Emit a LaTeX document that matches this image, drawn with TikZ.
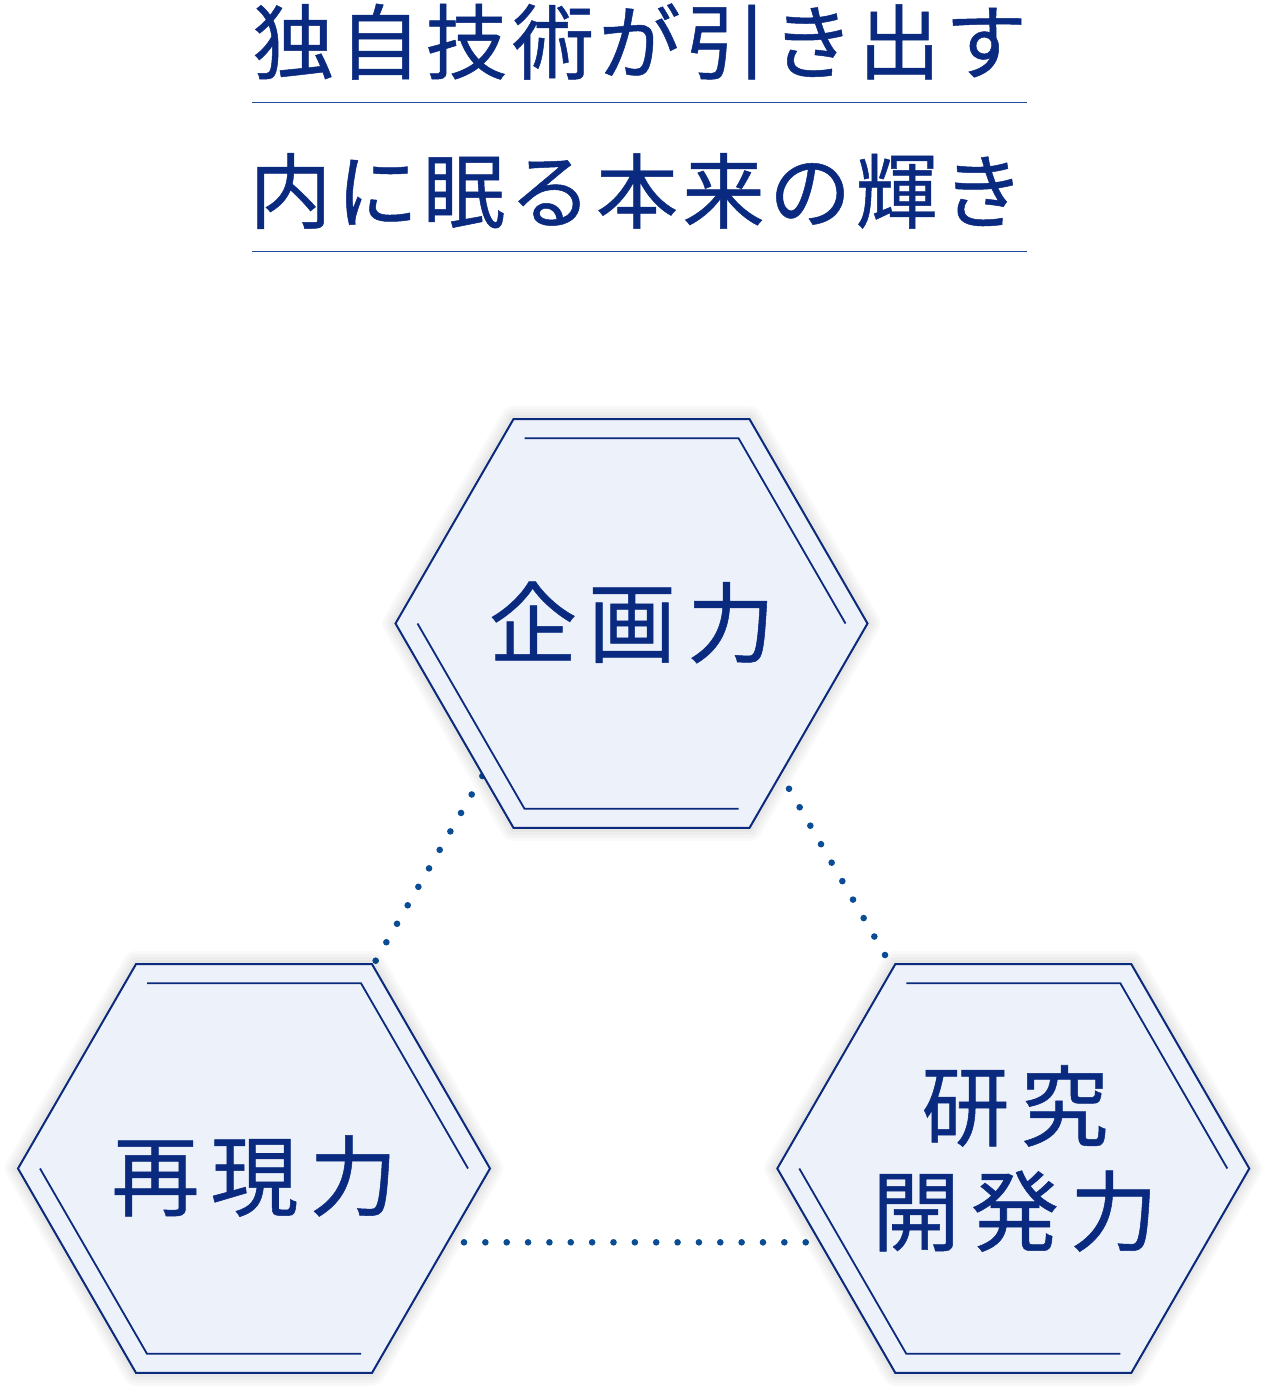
\documentclass[tikz,border=0pt]{standalone}
\usepackage{fontspec}
\newfontfamily\jp[FakeBold=0.6]{Noto Sans CJK JP}
\usetikzlibrary{calc}
\definecolor{navy}{HTML}{0B2A7C}
\definecolor{txtblue}{HTML}{0A2A80}
\definecolor{dotblue}{HTML}{0A4D94}
\definecolor{rulecol}{HTML}{2447A0}
\definecolor{hexfill}{HTML}{EDF2FA}
\newcommand\hk{\kern11pt}
\newcommand\tk{\kern4.6pt}
\newcommand\hexcell[1]{%
  \path[hexbody] (#1-tl) -- (#1-tr) -- (#1-r) -- (#1-br) -- (#1-bl) -- (#1-l) -- cycle;
  \draw[hexinner] ($(#1)+(-107,-185.3)$) -- ($(#1)+(107,-185.3)$) -- ($(#1)+(214,0)$);
  \draw[hexinner] ($(#1)+(-214,0)$) -- ($(#1)+(-107,185.3)$) -- ($(#1)+(107,185.3)$);
}
\newcommand\hexcorners[1]{%
  \coordinate (#1-tl) at ($(#1)+(-118,-204.4)$);
  \coordinate (#1-tr) at ($(#1)+(118,-204.4)$);
  \coordinate (#1-r)  at ($(#1)+(236,0)$);
  \coordinate (#1-br) at ($(#1)+(118,204.4)$);
  \coordinate (#1-bl) at ($(#1)+(-118,204.4)$);
  \coordinate (#1-l)  at ($(#1)+(-236,0)$);
}
\tikzset{
  glowring/.style={preaction={draw=black, draw opacity=0.022, line width=#1, line join=round}},
  hexbody/.style={glowring=26pt, glowring=20pt, glowring=14pt, glowring=8pt,
    fill=hexfill, draw=navy, line width=2pt, line join=miter},
  hexinner/.style={draw=navy, line width=1.8pt, line join=miter},
  dotline/.style={draw=dotblue, line width=6.6pt, line cap=round, dash pattern=on 0pt off #1},
  hextext/.style={text=txtblue, font=\jp\fontsize{88}{105}\selectfont, inner sep=0pt, align=center},
  titletext/.style={text=txtblue, font=\jp\fontsize{82}{90}\selectfont, inner sep=0pt},
  titlerule/.style={draw=rulecol, line width=1.5pt}
}
\begin{document}
\begin{tikzpicture}[x=1pt,y=-1pt]
\useasboundingbox (0,0) rectangle (1268,1397);
\fill[white] (0,0) rectangle (1268,1397);

% title
\node[titletext] (title1) at (639.7,41.5) {独\tk 自\tk 技\tk 術\tk が\tk 引\tk き\tk 出\tk す};
\node[titletext] (title2) at (637,191) {内\tk に\tk 眠\tk る\tk 本\tk 来\tk の\tk 輝\tk き};
\coordinate (r1a) at (252,102.7); \coordinate (r1b) at (1027,102.7);
\coordinate (r2a) at (252,251.5); \coordinate (r2b) at (1027,251.5);
\draw[titlerule] (r1a) -- (r1b);
\draw[titlerule] (r2a) -- (r2b);

% hexagon centres and corners
\coordinate (T) at (631.5,623.5);
\coordinate (L) at (254,1168.5);
\coordinate (R) at (1013.3,1168.5);
\hexcorners{T}\hexcorners{L}\hexcorners{R}

% dotted connectors
\coordinate (dl1) at ($(L-tr)+(3.7,-3.4)$);
\coordinate (dl2) at ($(dl1)+(108,-187)$);
\coordinate (dr1) at ($(R-tl)+(-10.3,-9.1)$);
\coordinate (dr2) at ($(dr1)+(-108,-187)$);
\coordinate (db1) at ($(L)+(210,73.8)$);
\coordinate (db2) at ($(R)+(-205.6,73.8)$);
\draw[dotline=21.33pt] (dl1) -- (dl2);
\draw[dotline=21.33pt] (dr1) -- (dr2);
\draw[dotline=21.356pt] (db1) -- (db2);

% hexagons
\hexcell{T}
\hexcell{L}
\hexcell{R}

% labels
\node[hextext] (Tlabel) at (632,622.5) {企\hk 画\hk 力};
\node[hextext] (Llabel) at (254.4,1176) {再\hk 現\hk 力};
\node[hextext] (Rlabel) at (1015,1158.5) {研\hk 究\\開\hk 発\hk 力};
\end{tikzpicture}
\end{document}
